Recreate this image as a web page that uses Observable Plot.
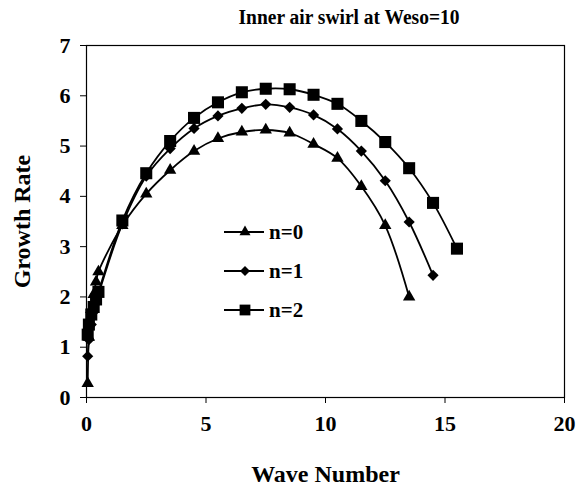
<!DOCTYPE html>
<html>
<head>
<meta charset="utf-8">
<script src="https://cdn.jsdelivr.net/npm/d3@7"></script>
<script src="https://cdn.jsdelivr.net/npm/@observablehq/plot@0.6"></script>
<style>
  html, body { margin: 0; padding: 0; background: #fff; }
  #wrap { position: relative; width: 576px; height: 488px; font-family: "Liberation Serif", "Times New Roman", serif; }
  #title { position: absolute; left: 0; top: 0; width: 576px; height: 32px; }
  #title span { position: absolute; left: 349px; top: 6px; transform: translateX(-50%) scaleX(0.95); font-weight: bold; font-size: 20.5px; white-space: nowrap; }
  #chart { position: absolute; left: 0; top: 32px; }
  #legend { position: absolute; left: 0; top: 0; pointer-events: none; }
  #chart svg g[aria-label$="tick label"] text { font-size: 22px; font-weight: bold; }
  #chart svg g[aria-label$="axis label"] text { font-size: 24px; font-weight: bold; }
</style>
</head>
<body>
<div id="wrap">
  <div id="title"><span>Inner air swirl at Weso=10</span></div>
  <div id="chart"></div>
  <svg id="legend" width="576" height="488"></svg>
</div>
<script>
// Data
const seriesNames = ["n=0", "n=1", "n=2"];

const x_n0 = [0.05, 0.1, 0.2, 0.3, 0.4, 0.5, 1.5, 2.5, 3.5, 4.5, 5.5, 6.5, 7.5, 8.5, 9.5, 10.5, 11.5, 12.5, 13.5];
const g_n0 = [0.28, 1.2, 1.75, 2.05, 2.3, 2.5, 3.42, 4.05, 4.52, 4.9, 5.15, 5.28, 5.32, 5.26, 5.04, 4.76, 4.2, 3.42, 2.0];

const x_n1 = [0.05, 0.1, 0.2, 0.3, 0.4, 0.5, 1.5, 2.5, 3.5, 4.5, 5.5, 6.5, 7.5, 8.5, 9.5, 10.5, 11.5, 12.5, 13.5, 14.5];
const g_n1 = [0.82, 1.15, 1.45, 1.7, 1.88, 2.05, 3.45, 4.4, 4.95, 5.35, 5.6, 5.75, 5.83, 5.77, 5.62, 5.34, 4.9, 4.31, 3.49, 2.43];

const x_n2 = [0.05, 0.1, 0.2, 0.3, 0.4, 0.5, 1.5, 2.5, 3.5, 4.5, 5.5, 6.5, 7.5, 8.5, 9.5, 10.5, 11.5, 12.5, 13.5, 14.5, 15.5];
const g_n2 = [1.25, 1.45, 1.65, 1.8, 1.95, 2.1, 3.52, 4.46, 5.1, 5.56, 5.87, 6.07, 6.14, 6.13, 6.02, 5.84, 5.5, 5.08, 4.56, 3.87, 2.96];

const xTicks = [0, 5, 10, 15, 20];
const yTicks = [0, 1, 2, 3, 4, 5, 6, 7];

const diamond = {
  draw(ctx, size) {
    const r = Math.sqrt(size / Math.PI);
    ctx.moveTo(0, -r); ctx.lineTo(r, 0); ctx.lineTo(0, r); ctx.lineTo(-r, 0); ctx.closePath();
  }
};
const symbols = [d3.symbolTriangle, diamond, d3.symbolSquare];
const radii = [4.6, 5.6, 6.8];

const toRows = (xs, gs, s) => xs.map((x, i) => ({x, g: gs[i], s}));
const series = [toRows(x_n0, g_n0, 0), toRows(x_n1, g_n1, 1), toRows(x_n2, g_n2, 2)];

const font = '"Liberation Serif", "Times New Roman", serif';

const marks = [Plot.frame({stroke: "#000", strokeWidth: 1.2})];
series.forEach((rows, i) => {
  marks.push(Plot.line(rows, {x: "x", y: "g", curve: "catmull-rom", stroke: "#000", strokeWidth: 1.8}));
});
series.forEach((rows, i) => {
  marks.push(Plot.dot(rows, {x: "x", y: "g", symbol: () => symbols[i], r: radii[i], fill: "#000", stroke: "none"}));
});
marks.push(Plot.axisX({ticks: xTicks, tickFormat: d3.format("d"), tickSize: 6, tickPadding: 12, fontSize: 22, fontWeight: "bold",
  label: "Wave Number", labelAnchor: "center", labelArrow: "none", labelOffset: 84}));
marks.push(Plot.axisY({ticks: yTicks, tickFormat: d3.format("d"), tickSize: 6, tickPadding: 10, fontSize: 22, fontWeight: "bold",
  label: "Growth Rate", labelAnchor: "center", labelArrow: "none", labelOffset: 74}));

const chart = Plot.plot({
  width: 576,
  height: 456,
  marginTop: 13,
  marginLeft: 86,
  marginRight: 12,
  marginBottom: 91,
  style: {fontFamily: font, fontSize: "22px", color: "#000", background: "#fff", overflow: "visible"},
  x: {domain: [0, 20]},
  y: {domain: [0, 7]},
  marks
});
document.getElementById("chart").appendChild(chart);

// Legend inside the plot area
const leg = d3.select("#legend");
seriesNames.forEach((name, i) => {
  const y = 232 + i * 39;
  const g = leg.append("g").attr("transform", `translate(0,${y})`);
  g.append("line").attr("x1", 224).attr("x2", 264).attr("y1", 0).attr("y2", 0).attr("stroke", "#000").attr("stroke-width", 1.8);
  const sz = Math.PI * radii[i] * radii[i] * 0.8;
  g.append("path").attr("d", d3.symbol(symbols[i], sz)()).attr("transform", "translate(245,0)").attr("fill", "#000");
  g.append("text").attr("x", 269).attr("y", 0).attr("dy", "0.35em").attr("font-family", font)
    .attr("font-weight", "bold").attr("font-size", 21).text(name);
});
</script>
</body>
</html>
